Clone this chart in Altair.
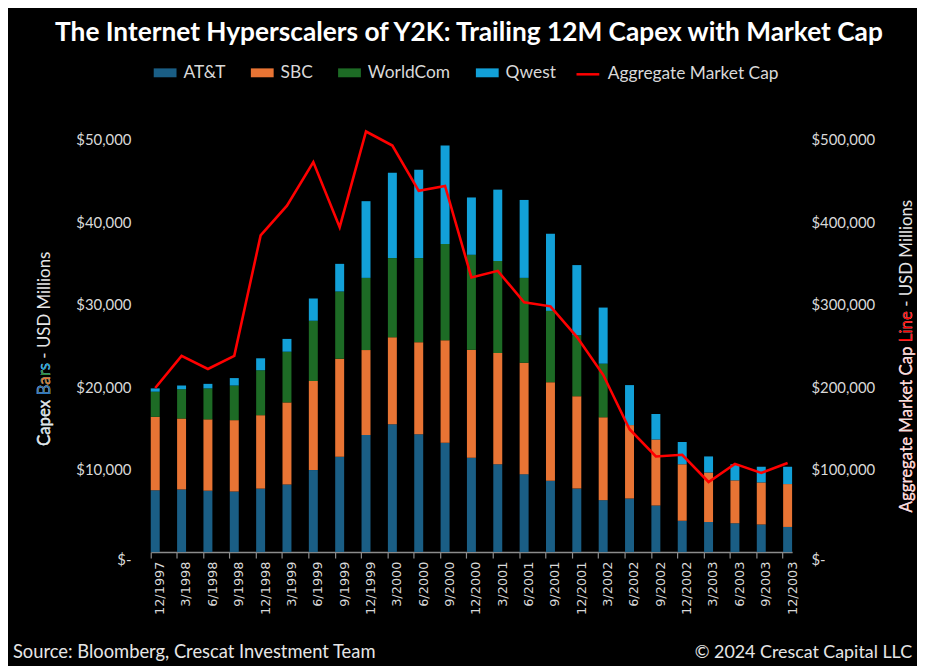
import altair as alt
import pandas as pd

dates = ["12/1997", "3/1998", "6/1998", "9/1998", "12/1998", "3/1999", "6/1999", "9/1999",
         "12/1999", "3/2000", "6/2000", "9/2000", "12/2000", "3/2001", "6/2001", "9/2001",
         "12/2001", "3/2002", "6/2002", "9/2002", "12/2002", "3/2003", "6/2003", "9/2003", "12/2003"]
att = [7500, 7600, 7450, 7350, 7700, 8200, 9950, 11550, 14200, 15500, 14300, 13250, 11450,
       10650, 9450, 8650, 7700, 6300, 6500, 5650, 3800, 3650, 3500, 3350, 3050]
sbc = [8900, 8600, 8650, 8650, 8900, 9950, 10800, 11900, 10300, 10550, 11150, 12450, 13100,
       13500, 13500, 11950, 11200, 10050, 8900, 8000, 6850, 6000, 5200, 5100, 5200]
worldcom = [3050, 3550, 3750, 4200, 5450, 6150, 7300, 8150, 8750, 9600, 10200, 11650, 11500,
            11150, 10300, 8650, 7400, 6500, 0, 0, 0, 0, 0, 0, 0]
qwest = [400, 450, 550, 900, 1450, 1550, 2700, 3350, 9300, 10350, 10700, 11950, 6950,
         8650, 9450, 9350, 8500, 6800, 4850, 3100, 2700, 1950, 1950, 1900, 2100]
market_cap = [199000, 238000, 222000, 238000, 384000, 420000, 473000, 394000, 510000, 493000,
              438000, 444000, 333000, 341000, 303000, 298000, 261000, 215000, 149000, 116000,
              118000, 85000, 107000, 96000, 108000]
companies = ["AT&T", "SBC", "WorldCom", "Qwest"]
bar_colors = ["#1a5e85", "#e87434", "#1d6b25", "#12a0d8"]
line_name = "Aggregate Market Cap"
line_color = "#ff0000"

rows = []
for i, d in enumerate(dates):
    for j, (c, vals) in enumerate(zip(companies, [att, sbc, worldcom, qwest])):
        rows.append({"date": d, "company": c, "capex": vals[i], "ord": j})
bar_df = pd.DataFrame(rows)
line_df = pd.DataFrame({"date": dates, "cap": market_cap, "series": line_name})

FONT = "Lato"
LABEL_COLOR = "#d9d9d9"

x_enc = alt.X(
    "date:N",
    scale=alt.Scale(domain=dates, paddingInner=0.66, paddingOuter=0),
    axis=alt.Axis(title=None, labelAngle=-90, labelFont="DejaVu Sans", labelFontSize=13,
                  labelColor=LABEL_COLOR, domainColor="#8c8c8c", domainWidth=1.5,
                  tickColor="#8c8c8c", tickWidth=1.2, tickSize=6, bandPosition=0,
                  labelOffset=5, labelPadding=3),
)

money_expr = "datum.value === 0 ? '$-' : '$' + format(datum.value, ',')"
zero_off = alt.ExprRef("datum.value === 0 ? 8 : 0")

rect_path = "M-1,-0.39L1,-0.39L1,0.39L-1,0.39Z"

legend_common = dict(orient="none", direction="horizontal", title=None, labelFont=FONT,
                     labelFontSize=17.5, labelColor=LABEL_COLOR, symbolSize=529,
                     columnPadding=25, labelOffset=7, padding=0, labelLimit=400)

bars = alt.Chart(bar_df).mark_bar().encode(
    x=x_enc,
    y=alt.Y("capex:Q", stack="zero", scale=alt.Scale(domain=[0, 50000], nice=False),
            axis=alt.Axis(title=None, orient="left", values=[0, 10000, 20000, 30000, 40000, 50000],
                          labelExpr=money_expr, labelFont=FONT, labelFontSize=15,
                          labelColor=LABEL_COLOR, labelPadding=20, domain=False, ticks=False,
                          grid=False, labelOffset=zero_off)),
    color=alt.Color("company:N",
                    scale=alt.Scale(domain=companies, range=bar_colors),
                    legend=alt.Legend(legendX=3, legendY=-79, columns=4, symbolType=rect_path,
                                      symbolStrokeWidth=0, **legend_common)),
    order=alt.Order("ord:Q", sort="ascending"),
)

line = alt.Chart(line_df).mark_line(strokeWidth=2.6).encode(
    x=x_enc,
    y=alt.Y("cap:Q", scale=alt.Scale(domain=[0, 500000], nice=False),
            axis=alt.Axis(title=None, orient="right",
                          values=[0, 100000, 200000, 300000, 400000, 500000],
                          labelExpr=money_expr, labelFont=FONT, labelFontSize=15,
                          labelColor=LABEL_COLOR, labelPadding=19, domain=False, ticks=False,
                          grid=False, labelOffset=zero_off)),
    stroke=alt.Stroke("series:N", scale=alt.Scale(domain=[line_name], range=[line_color]),
                      legend=alt.Legend(legendX=428, legendY=-79, symbolType="M-1,0L1,0",
                                        symbolStrokeWidth=2.5, **legend_common)),
)


def txt(text, x, y, size, color="#ffffff", weight="normal", align="left", angle=0,
        baseline="alphabetic"):
    return alt.Chart(pd.DataFrame({"t": [text]})).mark_text(
        align=align, baseline=baseline, font=FONT, fontSize=size, fontWeight=weight,
        color=color, angle=angle,
    ).encode(x=alt.value(x), y=alt.value(y), text="t:N")


title_text = "The Internet Hyperscalers of Y2K: Trailing 12M Capex with Market Cap"
left_title = "Capex Bars - USD Millions"
right_title = "Aggregate Market Cap Line - USD Millions"
AT = 17

annotations = [
    txt(title_text, 321, -100, 26.5, weight="bold", align="center"),
    txt("Source: Bloomberg, Crescat Investment Team", -139, 523, 18.5, color="#e6e6e6"),
    txt("\u00a9 2024 Crescat Capital LLC", 768, 523, 18, color="#e6e6e6", align="right"),
    # left axis title with coloured "Bars"
    txt(left_title, -107, 309, AT, color="#e6e6e6", angle=270, baseline="middle"),
    txt("Capex Bars", -107, 309, AT, color="#12a0d8", angle=270, baseline="middle"),
    txt("Capex Bar", -107, 309, AT, color="#2e8b37", angle=270, baseline="middle"),
    txt("Capex Ba", -107, 309, AT, color="#e87434", angle=270, baseline="middle"),
    txt("Capex B", -107, 309, AT, color="#2a78c0", angle=270, baseline="middle"),
    txt("Capex ", -107, 309, AT, color="#e6e6e6", angle=270, baseline="middle"),
    # right axis title with red "Line"
    txt(right_title, 763, 376, AT, color="#e6e6e6", angle=270, baseline="middle"),
    txt("Aggregate Market Cap Line", 763, 376, AT, color=line_color, angle=270, baseline="middle"),
    txt("Aggregate Market Cap ", 763, 376, AT, color="#e6e6e6", angle=270, baseline="middle"),
]

chart = alt.layer(bars, line, *annotations).resolve_scale(y="independent").properties(
    width=647, height=416,
    padding={"left": 144, "top": 130, "right": 126, "bottom": 112},
    autosize=alt.AutoSizeParams(type="none"),
    background="#000000",
).configure_view(stroke=None)

chart.save("out.html", embed_options={"renderer": "svg", "actions": False})
